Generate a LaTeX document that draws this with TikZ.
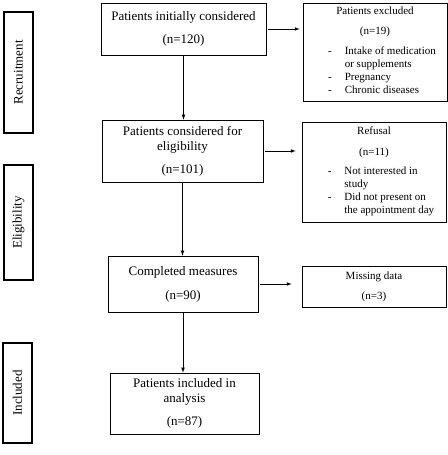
\documentclass[tikz,border=0pt]{standalone}
\usepackage{fontspec}
\setmainfont{Liberation Serif}
\usepackage{tikz}
\newcommand{\bigtxt}{\fontsize{13}{15}\selectfont}
\newcommand{\smalltxt}{\fontsize{11}{13}\selectfont}

\begin{document}
\begin{tikzpicture}[>=latex, x=1pt, y=1pt,
  box/.style={draw, rectangle, line width=0.7pt, align=center, inner sep=0pt, font=\bigtxt},
  sidebox/.style={draw, rectangle, line width=0.7pt, align=center, inner sep=0pt, font=\smalltxt},
  stage/.style={draw, rectangle, line width=1.4pt, rotate=90, inner sep=0pt, minimum height=29pt, font=\bigtxt}]
\useasboundingbox (0,0) rectangle (447,455);
% stages on the left
\node[stage, minimum width=121pt] (recr) at (18.5,382.5) {Recruitment};
\node[stage, minimum width=115pt] (elig) at (18.5,232.5) {Eligibility};
\node[stage, minimum width=100pt] (incl) at (17.5,62) {Included};
% main flow
\node[box, minimum width=165pt, minimum height=52pt] (init) at (183.5,426) {Patients initially considered\\[8pt](n=120)};
\node[box, minimum width=161pt, minimum height=62pt] (cons) at (182.5,304) {Patients considered for\\eligibility\\[8pt](n=101)};
\node[box, minimum width=150pt, minimum height=56pt] (comp) at (183,171) {Completed measures\\[9pt](n=90)};
\node[box, minimum width=149pt, minimum height=61pt] (anal) at (184.5,51.5) {Patients included in\\analysis\\[8pt](n=87)};
% side boxes
\node[sidebox, minimum width=144pt, minimum height=98pt] (excl) at (375,403) {Patients excluded\\[7pt](n=19)\\[8pt]
  \hspace*{14pt}\begin{tabular}{@{}l@{\hspace{13pt}}l@{}}
  -&Intake of medication\\
   &or supplements\\
  -&Pregnancy\\
  -&Chronic diseases
  \end{tabular}};
\node[sidebox, minimum width=144pt, minimum height=100pt] (refu) at (374,283) {Refusal\\[8pt](n=11)\\[6pt]
  \hspace*{14pt}\begin{tabular}{@{}l@{\hspace{13pt}}l@{}}
  -&Not interested in\\
   &study\\
  -&Did not present on\\
   &the appointment day
  \end{tabular}};
\node[sidebox, minimum width=144pt, minimum height=41pt] (miss) at (374,168.5) {Missing data\\[7pt](n=3)};
% arrows
\draw[->, line width=0.7pt] (init.south) -- (init.south |- cons.north);
\draw[->, line width=0.7pt] (cons.south) -- (cons.south |- comp.north);
\draw[->, line width=0.7pt] (comp.south) -- (comp.south |- anal.north);
\draw[->, line width=0.7pt, shorten <=2pt, shorten >=3pt] (init.east) -- (excl.west |- init.east);
\draw[->, line width=0.7pt, shorten <=2pt, shorten >=6pt] (cons.east) -- (refu.west |- cons.east);
\draw[->, line width=0.7pt, shorten <=2pt, shorten >=10pt] (comp.east) -- (miss.west |- comp.east);
\end{tikzpicture}
\end{document}
